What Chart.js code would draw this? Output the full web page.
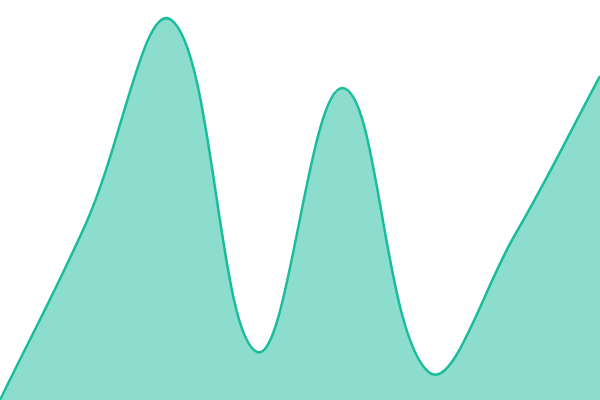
<!DOCTYPE html>
<html>
<head>
<meta charset="utf-8">
<script src="https://cdn.jsdelivr.net/npm/chart.js@4"></script>
<style>
  html, body { margin: 0; padding: 0; background: #fff; }
  #wrap { width: 600px; height: 400px; }
</style>
</head>
<body>
<div id="wrap"><canvas id="areaChart"></canvas></div>
<script>
const labels = ['1', '2', '3', '4', '5', '6', '7', '8'];
const values = [0, 44, 95, 12, 78, 7, 41, 81];

const ctx = document.getElementById('areaChart').getContext('2d');
new Chart(ctx, {
  type: 'line',
  data: {
    labels: labels,
    datasets: [{
      data: values,
      borderColor: '#1abc9c',
      backgroundColor: 'rgba(26, 188, 156, 0.5)',
      borderWidth: 2.5,
      fill: true,
      tension: 0.4,
      pointRadius: 0
    }]
  },
  options: {
    responsive: true,
    maintainAspectRatio: false,
    animation: false,
    layout: { padding: 0 },
    plugins: { legend: { display: false }, tooltip: { enabled: false } },
    scales: {
      x: { display: false },
      y: { display: false, min: 0, max: 100 }
    }
  }
});
</script>
</body>
</html>
